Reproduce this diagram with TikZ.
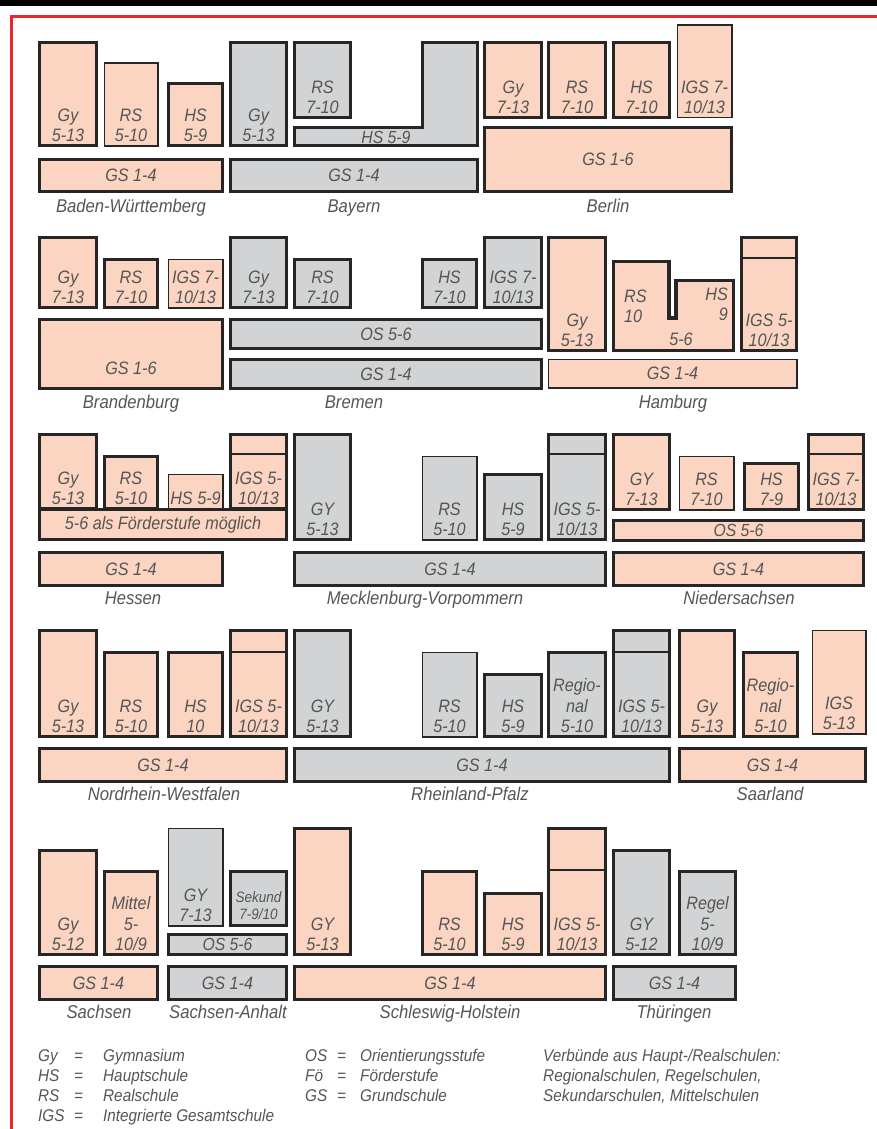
\documentclass[tikz,border=0pt]{standalone}
\usepackage{fontspec}
\setmainfont{Liberation Sans}[FakeStretch=0.9]
\definecolor{peach}{HTML}{FCD5C2}
\definecolor{grayf}{HTML}{D1D3D4}
\definecolor{edge}{HTML}{262626}
\definecolor{txtc}{HTML}{555555}
\definecolor{redl}{HTML}{E8262D}
\tikzset{
  pk/.style={fill=peach},
  gr/.style={fill=grayf},
  tk/.style={draw=edge,line width=3.4pt},
  tn/.style={draw=edge,line width=1.8pt},
  txt/.style={font=\itshape\fontsize{18}{20.5}\selectfont,text=txtc,align=center,inner sep=0pt},
  btxt/.style={font=\itshape\fontsize{17.5}{18}\selectfont,text=txtc,align=center,inner sep=0pt},
  stxt/.style={font=\itshape\fontsize{15}{17}\selectfont,text=txtc,align=center,inner sep=0pt},
  lbl/.style={font=\itshape\fontsize{18.5}{20}\selectfont,text=txtc,inner sep=0pt,anchor=base},
  leg/.style={font=\itshape\fontsize{17}{20}\selectfont,text=txtc,inner sep=0pt,anchor=base west},
}
\newcommand\schbox[7]{%
  \draw[#6] ([shift={(1.4,1.4)}]#2,#3) rectangle ([shift={(-1.4,-1.4)}]#4,#5);
  \node[txt,anchor=south] (#1) at ({(#2+#4)/2},{#5-5}) {#7};
}
\newcommand\schbar[7]{%
  \draw[#6] ([shift={(1.4,1.4)}]#2,#3) rectangle ([shift={(-1.4,-1.4)}]#4,#5);
  \node[txt] (#1) at ({(#2+#4)/2},{(#3+#5)/2}) {#7};
}
\newcommand\schsbar[7]{%
  \draw[#6] ([shift={(1.4,1.4)}]#2,#3) rectangle ([shift={(-1.4,-1.4)}]#4,#5);
  \node[btxt] (#1) at ({(#2+#4)/2},{(#3+#5)/2}) {#7};
}
\newcommand\divider[3]{\draw[draw=edge,line width=2.6pt] (#1+1.4,#3) -- (#2-1.4,#3);}
\begin{document}
\begin{tikzpicture}[x=1pt,y=-1pt]
\useasboundingbox (0,0) rectangle (877,1129);
% frame
\fill[black] (0,0) rectangle (877,6);
\draw[redl,line width=3pt] (877,17) -- (11,17) -- (11,1129);

% ===== Row 1 =====
\schbox{bwgy}{38}{41}{98}{147}{pk,tk}{Gy\\5-13}
\schbox{bwrs}{103}{62}{159}{147}{pk,tn}{RS\\5-10}
\schbox{bwhs}{167}{82}{224}{147}{pk,tk}{HS\\5-9}
\schbar{bwgs}{38}{158}{224}{193}{pk,tk}{GS 1-4}
\node[lbl] (bw) at (131,212) {Baden-Württemberg};

\schbox{bygy}{229}{41}{288}{147}{gr,tk}{Gy\\5-13}
\schbox{byrs}{293}{41}{352}{119}{gr,tk}{RS\\7-10}
\draw[gr,tk] (294.5,127.5) -- (422.5,127.5) -- (422.5,42.5) -- (477.5,42.5) -- (477.5,145.5) -- (294.5,145.5) -- cycle;
\node[btxt] (byhs) at (386,137) {HS 5-9};
\schbar{bygs}{229}{158}{479}{193}{gr,tk}{GS 1-4}
\node[lbl] (by) at (354,212) {Bayern};

\schbox{begy}{483}{41}{543}{119}{pk,tk}{Gy\\7-13}
\schbox{bers}{547}{41}{607}{119}{pk,tk}{RS\\7-10}
\schbox{behs}{612}{41}{671}{119}{pk,tk}{HS\\7-10}
\schbox{beigs}{676}{24}{733}{119}{pk,tn}{IGS 7-\\10/13}
\schbar{begs}{483}{126}{733}{193}{pk,tk}{GS 1-6}
\node[lbl] (be) at (608,212) {Berlin};

% ===== Row 2 =====
\schbox{bbgy}{38}{236}{98}{309}{pk,tk}{Gy\\7-13}
\schbox{bbrs}{103}{258}{159}{309}{pk,tk}{RS\\7-10}
\schbox{bbigs}{167}{258}{224}{309}{pk,tn}{IGS 7-\\10/13}
\draw[pk,tk] (39.4,319.4) rectangle (222.6,388.6);
\node[txt] (bbgs) at (131,368) {GS 1-6};
\node[lbl] (bb) at (131,408) {Brandenburg};

\schbox{hbgy}{229}{236}{288}{309}{gr,tk}{Gy\\7-13}
\schbox{hbrs}{293}{258}{352}{309}{gr,tk}{RS\\7-10}
\schbox{hbhs}{421}{258}{478}{309}{gr,tk}{HS\\7-10}
\schbox{hbigs}{483}{236}{543}{309}{gr,tk}{IGS 7-\\10/13}
\schbar{hbos}{229}{318}{543}{350}{gr,tk}{OS 5-6}
\schbar{hbgs}{229}{358}{543}{390}{gr,tk}{GS 1-4}
\node[lbl] (hb) at (354,408) {Bremen};

\schbox{hhgy}{547}{236}{607}{352}{pk,tk}{Gy\\5-13}
\draw[pk,tk] (613.5,261.5) -- (669,261.5) -- (669,318) -- (676,318) -- (676,280.5) -- (733.5,280.5) -- (733.5,350.5) -- (613.5,350.5) -- cycle;
\node[txt,anchor=south west,align=left] (hhrs) at (624,323) {RS\\10};
\node[txt,anchor=south east,align=right] (hhhs) at (728,321) {HS\\9};
\node[txt,anchor=south] (hhos) at (681,346) {5-6};
\schbox{hhigs}{740}{236}{798}{352}{pk,tk}{IGS 5-\\10/13}
\divider{740}{798}{258}
\schbar{hhgs}{547}{358}{798}{389}{pk,tn}{GS 1-4}
\node[lbl] (hh) at (673,408) {Hamburg};

% ===== Row 3 =====
\schbar{hefo}{38}{508}{288}{541}{pk,tk}{5-6 als Förderstufe möglich}
\schbox{hegy}{38}{433}{98}{510}{pk,tk}{Gy\\5-13}
\schbox{hers}{103}{455}{159}{510}{pk,tk}{RS\\5-10}
\schbox{hehs}{167}{473}{224}{510}{pk,tn}{HS 5-9}
\schbox{heigs}{229}{433}{288}{510}{pk,tk}{IGS 5-\\10/13}
\divider{229}{288}{454}
\schbar{hegs}{38}{551}{224}{587}{pk,tk}{GS 1-4}
\node[lbl] (he) at (133,604) {Hessen};

\schbox{mvgy}{293}{433}{352}{541}{gr,tk}{GY\\5-13}
\schbox{mvrs}{421}{455}{478}{541}{gr,tn}{RS\\5-10}
\schbox{mvhs}{483}{473}{543}{541}{gr,tk}{HS\\5-9}
\schbox{mvigs}{547}{433}{607}{541}{gr,tk}{IGS 5-\\10/13}
\divider{547}{607}{454}
\schbar{mvgs}{293}{551}{607}{587}{gr,tk}{GS 1-4}
\node[lbl] (mv) at (425,604) {Mecklenburg-Vorpommern};

\schbox{nsgy}{612}{433}{671}{511}{pk,tk}{GY\\7-13}
\schbox{nsrs}{678}{455}{735}{511}{pk,tn}{RS\\7-10}
\schbox{nshs}{743}{462}{800}{511}{pk,tk}{HS\\7-9}
\schbox{nsigs}{807}{433}{865}{511}{pk,tk}{IGS 7-\\10/13}
\divider{807}{865}{454}
\schsbar{nsos}{612}{519}{865}{542}{pk,tk}{OS 5-6}
\schbar{nsgs}{612}{551}{865}{587}{pk,tk}{GS 1-4}
\node[lbl] (ns) at (739,604) {Niedersachsen};

% ===== Row 4 =====
\schbox{nwgy}{38}{629}{98}{738}{pk,tk}{Gy\\5-13}
\schbox{nwrs}{103}{651}{159}{738}{pk,tk}{RS\\5-10}
\schbox{nwhs}{167}{651}{224}{738}{pk,tk}{HS\\10}
\schbox{nwigs}{229}{629}{288}{738}{pk,tk}{IGS 5-\\10/13}
\divider{229}{288}{652}
\schbar{nwgs}{38}{747}{288}{783}{pk,tk}{GS 1-4}
\node[lbl] (nw) at (164,800) {Nordrhein-Westfalen};

\schbox{rpgy}{293}{629}{352}{738}{gr,tk}{GY\\5-13}
\schbox{rprs}{421}{651}{478}{738}{gr,tn}{RS\\5-10}
\schbox{rphs}{483}{673}{543}{738}{gr,tk}{HS\\5-9}
\schbox{rpreg}{547}{651}{607}{738}{gr,tk}{Regio-\\nal\\5-10}
\schbox{rpigs}{612}{629}{671}{738}{gr,tk}{IGS 5-\\10/13}
\divider{612}{671}{652}
\schbar{rpgs}{293}{747}{671}{783}{gr,tk}{GS 1-4}
\node[lbl] (rp) at (470,800) {Rheinland-Pfalz};

\schbox{sagy}{678}{629}{736}{738}{pk,tk}{Gy\\5-13}
\schbox{sareg}{742}{651}{799}{738}{pk,tk}{Regio-\\nal\\5-10}
\schbox{saigs}{811}{629}{867}{735}{pk,tn}{IGS\\5-13}
\schbar{sags}{678}{747}{867}{783}{pk,tk}{GS 1-4}
\node[lbl] (sa) at (770,800) {Saarland};

% ===== Row 5 =====
\schbox{sngy}{38}{849}{98}{956}{pk,tk}{Gy\\5-12}
\schbox{snmi}{103}{870}{159}{956}{pk,tk}{Mittel\\5-\\10/9}
\schbar{sngs}{38}{965}{159}{1001}{pk,tk}{GS 1-4}
\node[lbl] (sn) at (99,1018) {Sachsen};

\schbox{stgy}{167}{827}{224}{927}{gr,tn}{GY\\7-13}
\draw[gr,tk] (230.4,871.4) rectangle (286.6,925.6);
\node[stxt,anchor=south] (stsk) at (258.5,920) {Sekund\\7-9/10};
\schsbar{stos}{167}{933}{288}{956}{gr,tk}{OS 5-6}
\schbar{stgs}{167}{965}{288}{1001}{gr,tk}{GS 1-4}
\node[lbl] (st) at (228,1018) {Sachsen-Anhalt};

\schbox{shgy}{293}{827}{352}{956}{pk,tk}{GY\\5-13}
\schbox{shrs}{421}{870}{478}{956}{pk,tk}{RS\\5-10}
\schbox{shhs}{483}{892}{543}{956}{pk,tk}{HS\\5-9}
\schbox{shigs}{547}{827}{607}{956}{pk,tk}{IGS 5-\\10/13}
\divider{547}{607}{870}
\schbar{shgs}{293}{965}{607}{1001}{pk,tk}{GS 1-4}
\node[lbl] (sh) at (450,1018) {Schleswig-Holstein};

\schbox{thgy}{612}{849}{671}{956}{gr,tk}{GY\\5-12}
\schbox{threg}{678}{870}{737}{956}{gr,tk}{Regel\\5-\\10/9}
\schbar{thgs}{612}{965}{737}{1001}{gr,tk}{GS 1-4}
\node[lbl] (th) at (674,1018) {Thüringen};

% ===== Legend =====
\node[leg] (l1a) at (38,1061) {Gy};
\node[leg] (l1b) at (74,1061) {=};
\node[leg] (l1c) at (103,1061) {Gymnasium};
\node[leg] (l2a) at (38,1081) {HS};
\node[leg] (l2b) at (74,1081) {=};
\node[leg] (l2c) at (103,1081) {Hauptschule};
\node[leg] (l3a) at (38,1101) {RS};
\node[leg] (l3b) at (74,1101) {=};
\node[leg] (l3c) at (103,1101) {Realschule};
\node[leg] (l4a) at (38,1121) {IGS};
\node[leg] (l4b) at (74,1121) {=};
\node[leg] (l4c) at (103,1121) {Integrierte Gesamtschule};
\node[leg] (m1a) at (305,1061) {OS};
\node[leg] (m1b) at (337,1061) {=};
\node[leg] (m1c) at (360,1061) {Orientierungsstufe};
\node[leg] (m2a) at (305,1081) {Fö};
\node[leg] (m2b) at (337,1081) {=};
\node[leg] (m2c) at (360,1081) {Förderstufe};
\node[leg] (m3a) at (305,1101) {GS};
\node[leg] (m3b) at (337,1101) {=};
\node[leg] (m3c) at (360,1101) {Grundschule};
\node[leg] (r1) at (543,1061) {Verbünde aus Haupt-/Realschulen:};
\node[leg] (r2) at (543,1081) {Regionalschulen, Regelschulen,};
\node[leg] (r3) at (543,1101) {Sekundarschulen, Mittelschulen};
\end{tikzpicture}
\end{document}
